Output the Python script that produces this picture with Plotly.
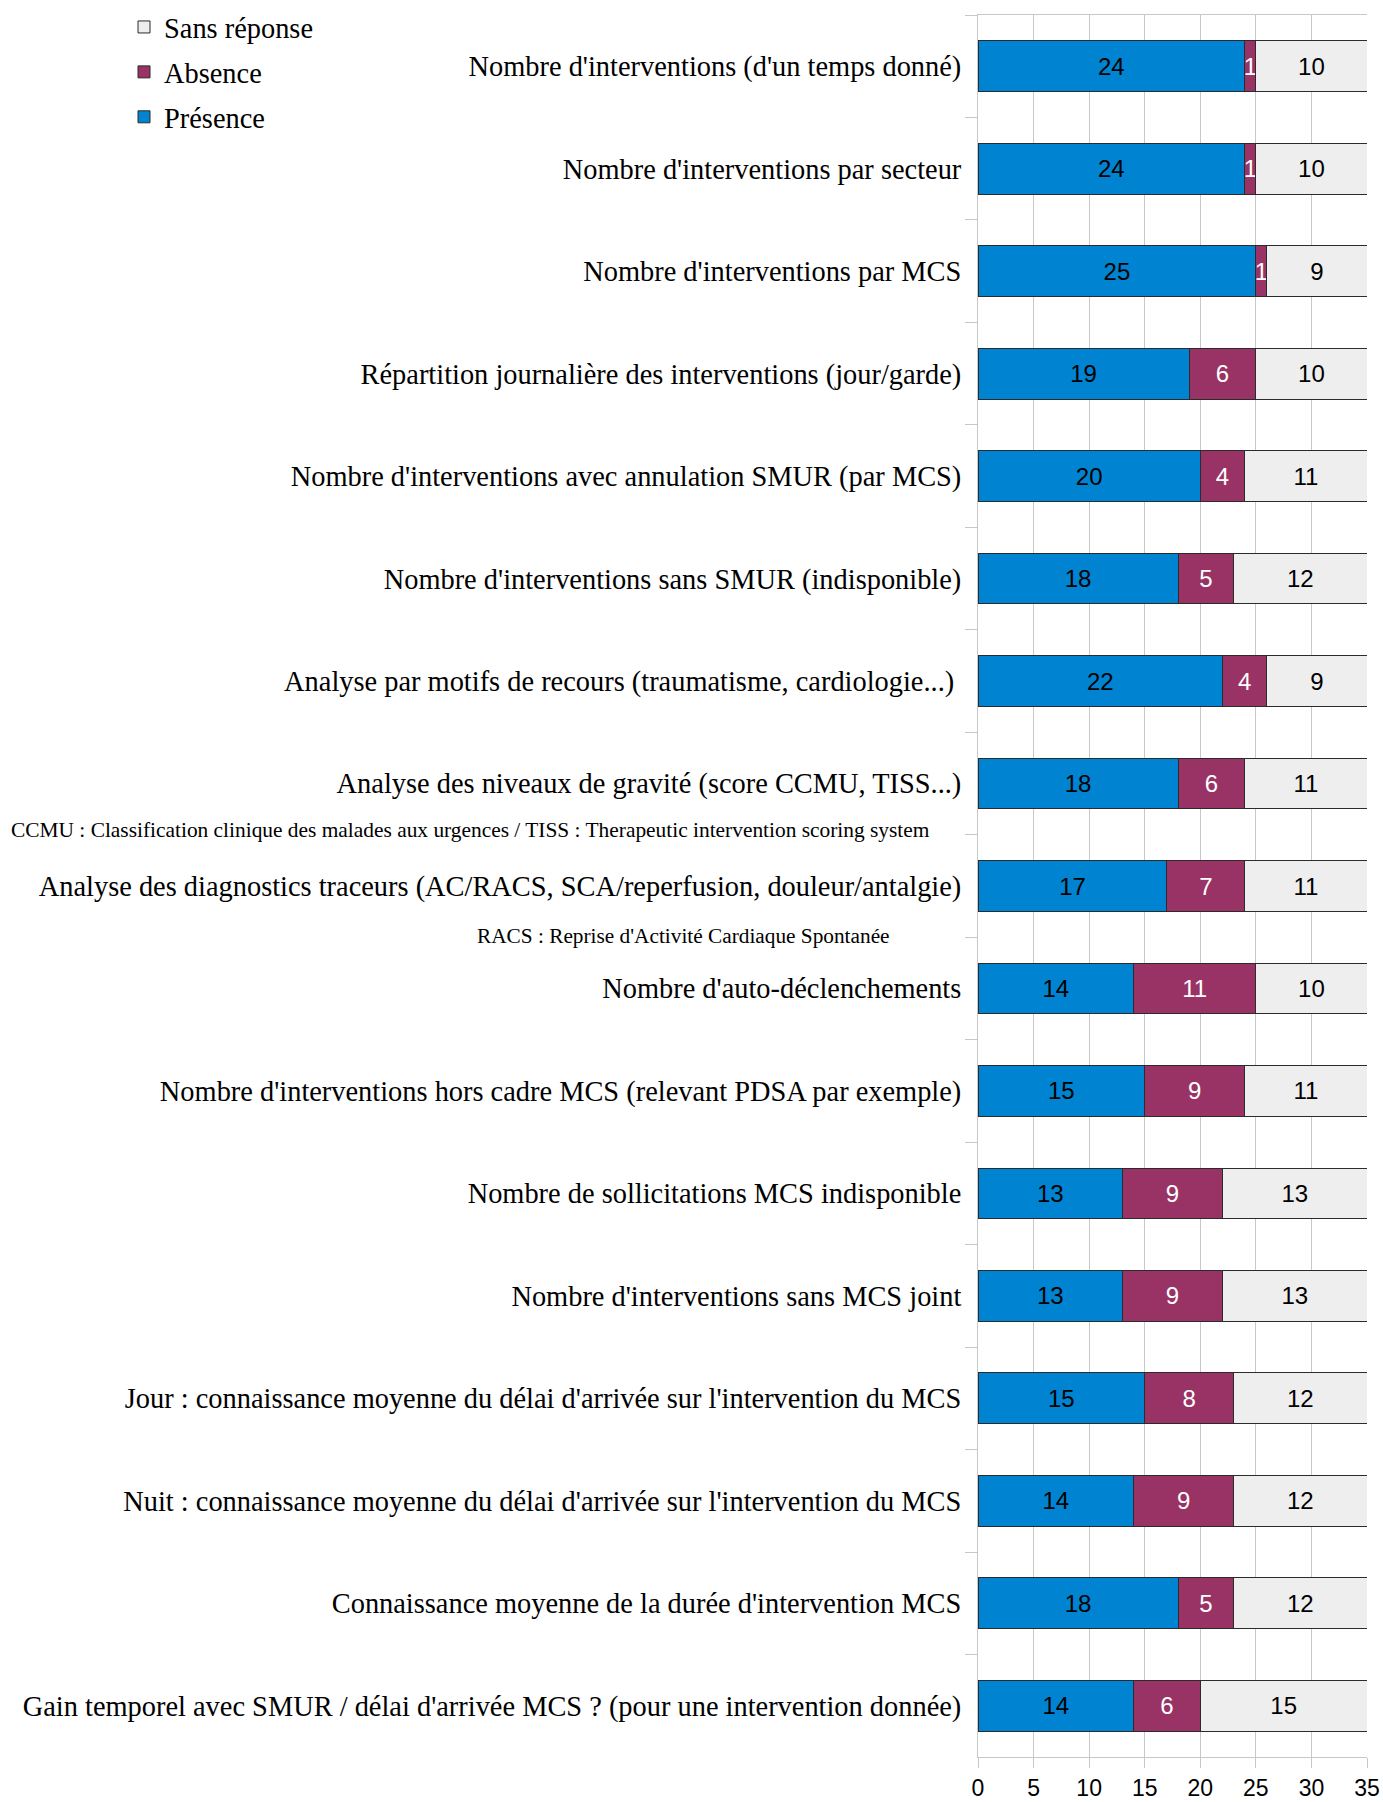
"""Stacked horizontal bars: indicateurs MCS (présence / absence / sans réponse)."""

import plotly.graph_objects as go

categories = [
    "Nombre d'interventions (d'un temps donné)",
    "Nombre d'interventions par secteur",
    "Nombre d'interventions par MCS",
    "Répartition journalière des interventions (jour/garde)",
    "Nombre d'interventions avec annulation SMUR (par MCS)",
    "Nombre d'interventions sans SMUR (indisponible)",
    "Analyse par motifs de recours (traumatisme, cardiologie...)\u00a0",
    "Analyse des niveaux de gravité (score CCMU, TISS...)",
    "Analyse des diagnostics traceurs (AC/RACS, SCA/reperfusion, douleur/antalgie)",
    "Nombre d'auto-déclenchements",
    "Nombre d'interventions hors cadre MCS (relevant PDSA par exemple)",
    "Nombre de sollicitations MCS indisponible",
    "Nombre d'interventions sans MCS joint",
    "Jour : connaissance moyenne du délai d'arrivée sur l'intervention du MCS",
    "Nuit : connaissance moyenne du délai d'arrivée sur l'intervention du MCS",
    "Connaissance moyenne de la durée d'intervention MCS",
    "Gain temporel avec SMUR / délai d'arrivée MCS ? (pour une intervention donnée)",
]

presence = [24, 24, 25, 19, 20, 18, 22, 18, 17, 14, 15, 13, 13, 15, 14, 18, 14]
absence = [1, 1, 1, 6, 4, 5, 4, 6, 7, 11, 9, 9, 9, 8, 9, 5, 6]
sans_reponse = [10, 10, 9, 10, 11, 12, 9, 11, 11, 10, 11, 13, 13, 12, 12, 12, 15]

x_ticks = [0, 5, 10, 15, 20, 25, 30, 35]

footnotes = [
    "CCMU : Classification clinique des malades aux urgences / TISS : Therapeutic intervention scoring system",
    "RACS : Reprise d'Activité Cardiaque Spontanée",
]

SERIF = "Liberation Serif, Times New Roman, serif"
SANS = "Liberation Sans, Arial, sans-serif"

# name, values, fill, label colour, legend rank (legend lists Sans réponse first)
series = [
    ("Présence", presence, "#0083d0", "#000000", 3),
    ("Absence", absence, "#993366", "#ffffff", 2),
    ("Sans réponse", sans_reponse, "#eeeeee", "#000000", 1),
]

fig = go.Figure()
for name, values, color, text_color, rank in series:
    fig.add_trace(
        go.Bar(
            name=name,
            y=categories,
            x=values,
            orientation="h",
            legendgroup=name,
            legendrank=rank,
            marker=dict(color=color, line=dict(color="#2b2b2b", width=1)),
            text=[str(v) for v in values],
            textposition="inside",
            insidetextanchor="middle",
            textangle=0,
            constraintext="none",
            textfont=dict(family=SANS, size=24, color=text_color),
            hoverinfo="x+y+name",
        )
    )

W, H = 1383, 1802
left, right, top, bottom = 978, 16, 15, 45
plot_w = W - left - right
plot_h = H - top - bottom

fig.update_layout(
    barmode="stack",
    bargap=0.505,
    width=W,
    height=H,
    margin=dict(l=left, r=right, t=top, b=bottom, autoexpand=False),
    paper_bgcolor="white",
    plot_bgcolor="white",
    font=dict(family=SERIF, size=28, color="#000000"),
    legend=dict(
        xref="container",
        yref="container",
        x=124 / W,
        y=1 - 2 / H,
        xanchor="left",
        yanchor="top",
        traceorder="grouped",
        tracegroupgap=5,
        font=dict(family=SERIF, size=28.4, color="#000000"),
        bgcolor="rgba(0,0,0,0)",
    ),
    xaxis=dict(
        range=[0, 35],
        tickvals=x_ticks,
        showgrid=True,
        gridcolor="#c8c8c8",
        gridwidth=1,
        zeroline=False,
        showline=True,
        linecolor="#c8c8c8",
        mirror=True,
        ticks="outside",
        ticklen=10,
        tickcolor="#c8c8c8",
        tickfont=dict(family=SANS, size=23, color="#000000"),
        fixedrange=True,
    ),
    yaxis=dict(
        type="category",
        autorange="reversed",
        showgrid=False,
        showline=True,
        linecolor="#c8c8c8",
        ticks="outside",
        tickson="boundaries",
        ticklen=12,
        tickcolor="#c8c8c8",
        ticklabelstandoff=10,
        tickfont=dict(family=SERIF, size=28.4, color="#000000"),
        fixedrange=True,
    ),
)

# footnotes placed between category rows (pixel centres converted to paper coords)
note_pos = [(9, 830, "left", 21.4), (683, 936, "center", 21.3)]
for text, (px, py, anchor, size) in zip(footnotes, note_pos):
    fig.add_annotation(
        text=text,
        xref="paper",
        yref="paper",
        x=(px - left) / plot_w,
        y=1 - (py - top) / plot_h,
        xanchor=anchor,
        yanchor="middle",
        showarrow=False,
        font=dict(family=SERIF, size=size, color="#000000"),
    )

# drop the page's default body margin so the figure sits at the window origin
fig.write_html(
    "out.html",
    config={"displayModeBar": False},
    post_script="document.body.style.margin='0';document.body.style.overflow='hidden';",
)
